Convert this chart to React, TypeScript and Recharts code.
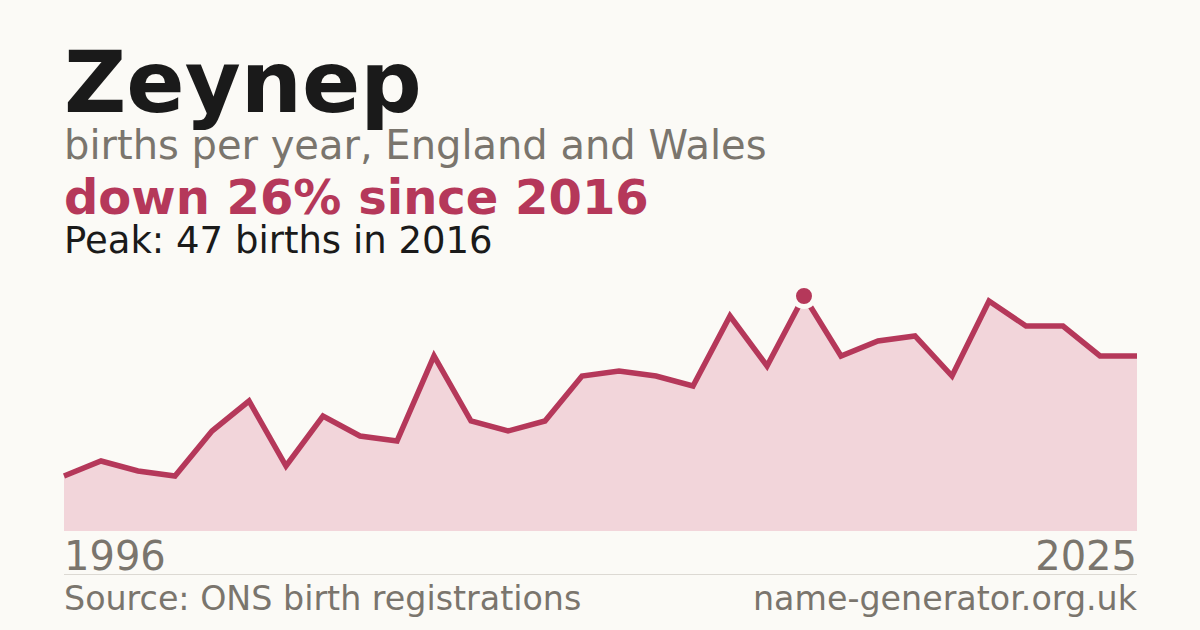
import React from 'react';
import { AreaChart, Area, XAxis, YAxis, ReferenceDot } from 'recharts';

// births per year, 1996 - 2025
const years = [
  1996, 1997, 1998, 1999, 2000, 2001, 2002, 2003, 2004, 2005,
  2006, 2007, 2008, 2009, 2010, 2011, 2012, 2013, 2014, 2015,
  2016, 2017, 2018, 2019, 2020, 2021, 2022, 2023, 2024, 2025,
];
const births = [
  11, 14, 12, 11, 20, 26, 13, 23, 19, 18,
  35, 22, 20, 22, 31, 32, 31, 29, 43, 33,
  47, 35, 38, 39, 31, 46, 41, 41, 35, 35,
];
const peakYear = 2016;
const peakValue = 47;
const firstLabel = '1996';
const lastLabel = '2025';

const BG = '#fbfaf6';
const RED = '#b5385a';
const FILL = '#f2d5da';
const GREY = '#7a756d';
const INK = '#1a1a1a';
const FONT = '"DejaVu Sans", Verdana, sans-serif';

const App: React.FC = () => {
  const data = years.map((y, i) => ({ year: y, births: births[i] }));

  return (
    <div style={{ position: 'absolute', left: 0, top: 0, width: 1200, height: 630, background: BG, overflow: 'hidden' }}>
      <div style={{ position: 'absolute', left: 0, top: 0 }}>
        <AreaChart
          width={1200}
          height={630}
          data={data}
          margin={{ top: 281, right: 63, bottom: 99, left: 64 }}
        >
          <XAxis dataKey="year" hide padding={{ left: 0, right: 0 }} />
          <YAxis hide domain={[0, 50]} />
          <Area
            type="linear"
            dataKey="births"
            stroke={RED}
            strokeWidth={5.5}
            fill={FILL}
            fillOpacity={1}
            dot={false}
            activeDot={false}
            isAnimationActive={false}
          />
          <ReferenceDot x={peakYear} y={peakValue} r={10.5} fill={RED} stroke={BG} strokeWidth={5} />
        </AreaChart>
      </div>
      <svg width={1200} height={630} style={{ position: 'absolute', left: 0, top: 0, fontFamily: FONT }}>
        <text x={64} y={112} fontSize={86} fontWeight="bold" fill={INK}>Zeynep</text>
        <text x={64} y={159} fontSize={40} fill={GREY}>births per year, England and Wales</text>
        <text x={64} y={214} fontSize={48} fontWeight="bold" fill={RED}>down 26% since 2016</text>
        <text x={64} y={253} fontSize={37} fill={INK}>Peak: 47 births in 2016</text>
        <text x={64} y={570} fontSize={40} fill={GREY}>{firstLabel}</text>
        <text x={1137} y={570} fontSize={40} fill={GREY} textAnchor="end">{lastLabel}</text>
        <line x1={64} x2={1137} y1={574.5} y2={574.5} stroke="#dcd9d3" strokeWidth={1} />
        <text x={64} y={610} fontSize={33.3} fill={GREY}>Source: ONS birth registrations</text>
        <text x={1137} y={610} fontSize={33.3} fill={GREY} textAnchor="end">name-generator.org.uk</text>
      </svg>
    </div>
  );
};

export default App;
